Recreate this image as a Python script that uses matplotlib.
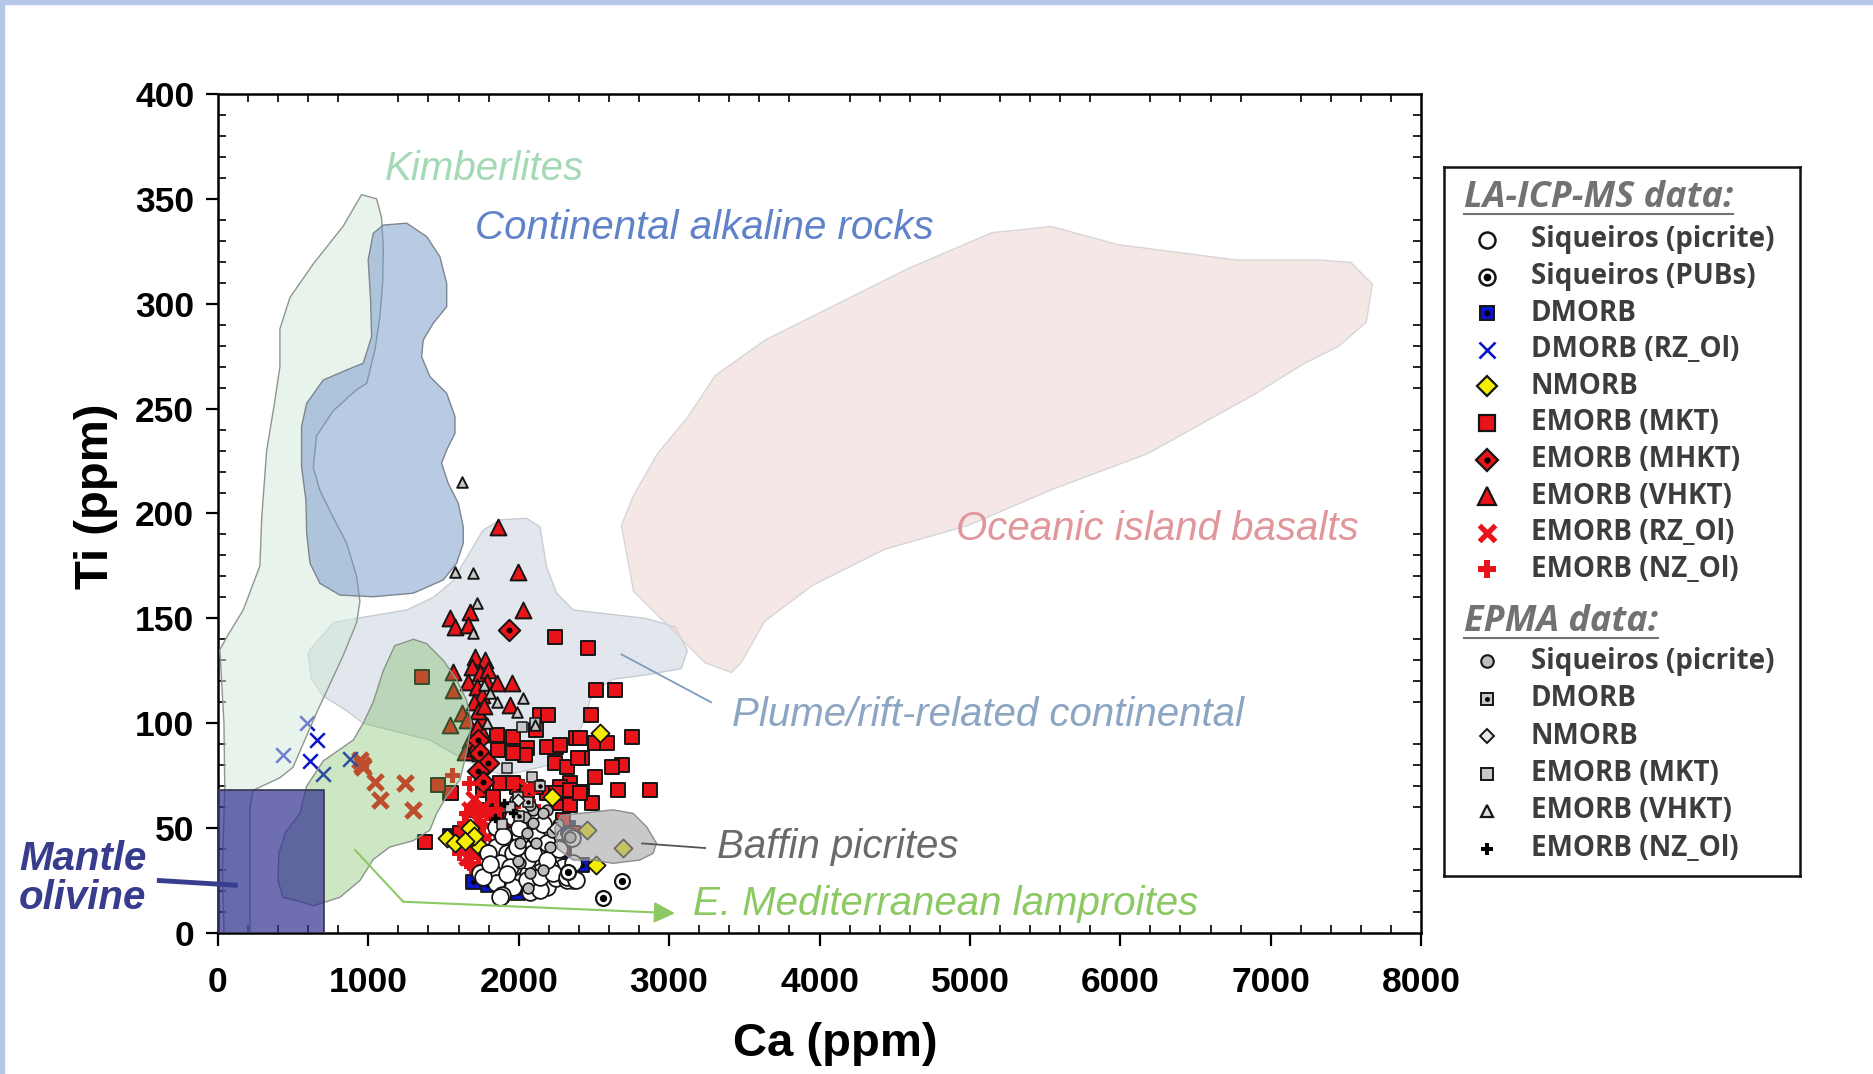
import matplotlib
matplotlib.use("Agg")
import matplotlib.pyplot as plt
from matplotlib.colors import to_rgba
from matplotlib.lines import Line2D
from matplotlib.patches import Rectangle
from matplotlib.ticker import MultipleLocator

plt.rcParams["font.family"] = ["Liberation Sans", "DejaVu Sans"]

# ---- field outlines (Ca ppm, Ti ppm) ----
kimb_ca = [955, 1055, 1088, 1100, 1095, 1077, 1044, 989, 922, 767, 656, 634, 678, 767, 855, 922, 944, 922,
           831, 656, 499, 412, 233, 213, 213, 40, 30, 45, 40, 13, 58, 168, 279, 291, 324, 379, 412, 412, 479, 634, 833]
kimb_ti = [352, 350, 341, 326, 310, 294, 278, 262, 259, 249, 237, 222, 211, 198, 186, 170, 158, 148,
           132, 105, 79, 74, 68, 60, 0, 0, 30, 70, 100, 135, 141, 154, 175, 198, 230, 254, 270, 288, 303, 319, 337]

alk_ca = [1099, 1255, 1388, 1476, 1521, 1521, 1432, 1365, 1354, 1410, 1521, 1576, 1576, 1521, 1487, 1531, 1598,
          1631, 1631, 1587, 1498, 1299, 1033, 811, 678, 612, 590, 585, 556, 556, 590, 700, 855, 966, 1022, 1015, 999, 1033]
alk_ti = [337.5, 338.4, 332, 322.4, 309.7, 298.6, 290.7, 282.7, 274.8, 265.2, 257.3, 246.2, 238.2, 230.3, 224, 214.4, 204.9,
          193.7, 185.8, 176.3, 168.3, 162, 160.3, 161.1, 166.7, 176.3, 190.6, 206.4, 222.3, 241.4, 252.5, 263.6, 268.4, 271.6,
          284.3, 301.8, 320.9, 333.6]

oib_ca = [3359, 3637, 4114, 4591, 5148, 5545, 5982, 6777, 7334, 7533, 7676, 7636, 7453, 7215, 6897, 6181, 5545,
          4988, 4432, 3955, 3637, 3478, 3415, 3240, 3002, 2763, 2683, 2763, 2922, 3121, 3304]
oib_ti = [268.4, 282.6, 299.7, 316.8, 333.9, 336.8, 328.2, 320.8, 320.8, 319.7, 309.4, 291.2, 279.8, 271.2, 257, 228.5,
          211.4, 194.3, 182.9, 165.8, 148.7, 128.8, 124.2, 128.8, 145.9, 163, 194.3, 208.5, 228.5, 245.6, 265.5]

plume_ca = [600, 612, 767, 989, 1255, 1432, 1565, 1654, 1763, 1875, 2052, 2141, 2185, 2252, 2362, 2540, 2843, 3041,
            3121, 3081, 2843, 2628, 2517, 2473, 2450, 2400, 2200, 1900, 1653, 1409, 966, 855, 700, 622]
plume_ti = [133, 135, 148, 150.8, 154, 160, 168, 179, 192, 197, 197.7, 193.7, 174.6, 162, 154, 152.5, 150, 146,
            134.5, 126, 123, 121, 116, 111, 105, 95, 80, 75, 82, 92, 100, 106, 113, 121]

lamp_ca = [1176, 1300, 1387, 1498, 1586, 1653, 1686, 1653, 1609, 1520, 1454, 1409, 1298, 1143, 1032, 944, 811, 634,
           545, 432, 399, 405, 450, 545, 590, 700, 900, 966, 1032, 1099]
lamp_ti = [137, 140, 138, 130, 121, 111, 100, 86, 73, 65, 57, 49, 44, 41, 35, 25, 17, 13,
           15, 17, 25, 38, 48, 57, 70, 82, 92, 100, 110, 125]

baffin_ca = [2406, 2628, 2761, 2850, 2916, 2894, 2806, 2628, 2495, 2362, 2260, 2240, 2280]
baffin_ti = [57, 58.7, 57, 50.7, 42.8, 38, 34.8, 33.2, 34.8, 34.8, 40, 50, 56]

olivine_ca_max = 705
olivine_ti_max = 68

# ---- LA-ICP-MS data ----
sq_pic_ca = [1886, 1963, 1974, 1852, 1919, 2030, 2118, 2185, 2229, 2296, 2362, 2141, 2052, 1963, 1875, 1830, 1742,
             1852, 1963, 2074, 2185, 2251, 2318, 1886, 2141, 2052, 2207, 2096, 1963, 1797, 2008, 1852, 2340, 1875,
             1764, 1941, 2052, 2141, 2229, 2318, 2384, 2362, 1897, 1986, 2096, 2185, 2351, 1808, 1920, 2000, 2160, 2270]
sq_pic_ti = [46.7, 55.5, 47.5, 41.2, 38, 41.2, 46, 42.8, 36.4, 31.6, 25.3, 33.2, 30.1, 31.6, 33.2, 28.5, 28.5,
             23.7, 22.1, 19.7, 22.1, 26.1, 25.3, 18.1, 20.5, 25.3, 31.6, 36.4, 38, 38, 46, 50.7, 46, 17.3,
             26.8, 31.6, 34.8, 26.8, 28.4, 26.8, 25.3, 33.2, 46, 41.2, 38, 34.8, 45.1, 33, 28, 50, 52, 40]

pubs_ca = [2684, 2562, 2330]
pubs_ti = [25, 16.5, 29]

dmorb_ca = [1697, 1797, 2418, 1542, 1997, 2330, 2300, 1545, 1690]
dmorb_ti = [24.5, 22.9, 32.4, 66.6, 19, 50, 37, 46, 41]

dmorb_rz_ca = [589, 434, 656, 611, 696, 877]
dmorb_rz_ti = [100, 85, 92, 82, 76, 83]

nmorb_ca = [1520, 1576, 1675, 1742, 1786, 2517, 2539, 2218, 2451, 2694, 1700, 1640]
nmorb_ti = [45.2, 42.8, 49.9, 41.2, 38, 32.4, 95.2, 65, 49.1, 40.4, 46, 44]

mkt_ca = [2240, 2462, 2517, 2639, 2478, 2141, 2196, 2750, 2506, 2584, 2384, 2251, 2185, 1853, 1963, 2052, 2118,
          2684, 2617, 2506, 2418, 2240, 2318, 2041, 1963, 1864, 2661, 2872, 2340, 2418, 2484, 2274, 2340, 2185,
          2274, 1764, 1830, 1875, 1986, 1553, 1376, 2406, 2273, 2395, 2052, 2118, 1720, 1852, 1941, 1609, 1963,
          2251, 2340, 2406, 2296, 2362, 2296, 1354, 1465]
mkt_ti = [141.3, 135.7, 115.8, 115.8, 104, 103.9, 103.9, 93.6, 90.4, 90.4, 92.8, 88.8, 88.8, 94.4, 93.6, 88, 96.7,
          80.1, 79.3, 74.5, 83.3, 80.9, 79.3, 84.8, 85.6, 87.2, 68.2, 68.2, 71.3, 67.4, 61.8, 61.8, 61, 66.6,
          69.7, 68.2, 65, 71.3, 69.7, 66.6, 43.5, 92.8, 89.6, 83.3, 66.6, 69.8, 58.7, 57, 53.9, 47.5, 71.4,
          66.6, 68.2, 66.6, 53.9, 47.5, 41.2, 122.2, 70.5]

mhkt_ca = [1935, 1731, 1742, 1797, 1731, 1760]
mhkt_ti = [144.4, 92, 85.7, 80.9, 77, 72]

vhkt_ca = [1864, 1997, 2030, 1542, 1675, 1576, 1664, 1709, 1775, 1565, 1686, 1742, 1797, 1664, 1786, 1720, 1853,
           1952, 1753, 1941, 1753, 1565, 1620, 1542, 1653, 1675, 1642, 1700, 1730, 1770, 1720, 1760, 1700, 1740]
vhkt_ti = [193.7, 172.2, 154, 150, 153.2, 146, 146.8, 131.7, 130, 124.6, 127, 123.8, 125.4, 119.8, 119.8, 117.4, 119,
           119, 113.4, 108.7, 102.3, 115.8, 104.7, 99.1, 101.5, 92, 86.4, 110, 106, 108, 98, 95, 88, 86]

emorb_rz_ca = [944, 966, 955, 1044, 1077, 1243, 1298, 1675, 1720, 1653, 1742, 1786, 1675, 1653, 2052, 2008, 1700, 1760]
emorb_rz_ti = [82.5, 79.3, 80.1, 72.2, 63.4, 71.4, 58.7, 58.7, 53.9, 47.5, 49.1, 45.9, 41.2, 36.4, 69.8, 65, 64, 60]

emorb_nz_ca = [1560, 1675, 1675, 1686, 1609, 1720, 1764, 1653, 1786, 1852, 1963, 2096, 1700, 1640, 1730]
emorb_nz_ti = [75, 71.4, 33.2, 31.6, 38, 44.4, 50.7, 57, 57, 58.7, 60.3, 60.3, 40, 52, 36]

# ---- EPMA data ----
ep_sq_ca = [2041, 2096, 2185, 2052, 2118, 2207, 2008, 2074, 1975, 2074, 2163, 2218, 2096, 2008, 1997, 2163, 2340, 2063, 2260]
ep_sq_ti = [55.5, 58.7, 58.7, 47.5, 42.8, 41.2, 33.2, 28.5, 63.4, 61, 57, 48.3, 52.2, 42.8, 34.1, 30, 45.9, 21.3, 52]

ep_dm_ca = [2063, 2141, 2000]
ep_dm_ti = [62.6, 70, 56]

ep_nm_ca = [1997, 2240]
ep_nm_ti = [63.4, 50]

ep_mkt_ca = [2019, 2107, 1919, 2085, 1997, 1941, 1890]
ep_mkt_ti = [98.4, 100, 78.5, 74.5, 65, 60.3, 52]

ep_vhkt_ca = [1620, 1576, 1697, 1720, 1697, 1808, 1853, 2030, 1986, 2107, 1770, 1790]
ep_vhkt_ti = [215, 172.2, 171.4, 157.1, 142.8, 114.2, 110.3, 111.9, 105.5, 99.1, 118, 100]

ep_nz_ca = [1900, 1960, 1840]
ep_nz_ti = [62, 57, 55]

RED = "#e8141a"
BLUE = "#0a14c8"
YEL = "#f5ee00"
EDGE = "#151515"

fig = plt.figure(figsize=(18.74, 10.74), dpi=100)
ax = fig.add_axes([0.1163, 0.1313, 0.642, 0.7812])
ax.set_xlim(0, 8000)
ax.set_ylim(0, 400)

# light blue frame strips on the left and top edge
fig.patches.append(Rectangle((0, 0), 4 / 1874, 1, transform=fig.transFigure, color="#b4c7e7", zorder=0))
fig.patches.append(Rectangle((0, 1 - 4 / 1074), 1, 4 / 1074, transform=fig.transFigure, color="#b4c7e7", zorder=0))

# fields drawn underneath the data
ax.fill(plume_ca, plume_ti, facecolor=to_rgba("#c7cfdd", 0.5), edgecolor="#c9ccd2", lw=1, zorder=1)
ax.fill(oib_ca, oib_ti, facecolor=to_rgba("#efd5d5", 0.55), edgecolor="#d6d6d6", lw=1, zorder=1)

# data
ms = 100
ax.scatter(dmorb_ca, dmorb_ti, s=ms, marker="s", c=BLUE, edgecolors=EDGE, linewidths=1.3, zorder=3)
ax.scatter(dmorb_ca, dmorb_ti, s=6, marker="o", c="k", zorder=3)
ax.scatter(mkt_ca, mkt_ti, s=ms, marker="s", c=RED, edgecolors=EDGE, linewidths=1.4, zorder=3)
ax.scatter(vhkt_ca, vhkt_ti, s=130, marker="^", c=RED, edgecolors=EDGE, linewidths=1.4, zorder=3)
ax.scatter(mhkt_ca, mhkt_ti, s=120, marker="D", c=RED, edgecolors=EDGE, linewidths=1.4, zorder=3)
ax.scatter(mhkt_ca, mhkt_ti, s=10, marker="o", c="k", zorder=3)
ax.scatter(emorb_rz_ca, emorb_rz_ti, s=120, marker="x", c=RED, linewidths=3.5, zorder=3)
ax.scatter(emorb_nz_ca, emorb_nz_ti, s=120, marker="P", c=RED, edgecolors="none", zorder=3)
ax.scatter(nmorb_ca, nmorb_ti, s=85, marker="D", c=YEL, edgecolors=EDGE, linewidths=1.3, zorder=3)
ax.scatter(sq_pic_ca, sq_pic_ti, s=145, marker="o", c="white", edgecolors=EDGE, linewidths=1.3, zorder=3)
ax.scatter(pubs_ca, pubs_ti, s=115, marker="o", c="white", edgecolors=EDGE, linewidths=1.6, zorder=3)
ax.scatter(pubs_ca, pubs_ti, s=18, marker="o", c="k", zorder=3)
ax.scatter(ep_sq_ca, ep_sq_ti, s=60, marker="o", c="#bdbdbd", edgecolors=EDGE, linewidths=1.2, zorder=3)
ax.scatter(ep_mkt_ca, ep_mkt_ti, s=42, marker="s", c="#c8c8c8", edgecolors=EDGE, linewidths=1.1, zorder=3)
ax.scatter(ep_dm_ca, ep_dm_ti, s=42, marker="s", c="#c8c8c8", edgecolors=EDGE, linewidths=1.1, zorder=3)
ax.scatter(ep_dm_ca, ep_dm_ti, s=5, marker="o", c="k", zorder=3)
ax.scatter(ep_nm_ca, ep_nm_ti, s=40, marker="D", c="#e8e8e8", edgecolors=EDGE, linewidths=1.1, zorder=3)
ax.scatter(ep_vhkt_ca, ep_vhkt_ti, s=58, marker="^", c="#c8c8c8", edgecolors=EDGE, linewidths=1.4, zorder=3)
ax.scatter(ep_nz_ca, ep_nz_ti, s=40, marker="P", c="k", zorder=3)
ax.scatter(dmorb_rz_ca, dmorb_rz_ti, s=110, marker="x", c=BLUE, linewidths=1.8, zorder=3)

# fields drawn over the data (semi-transparent)
ax.fill(kimb_ca, kimb_ti, facecolor=to_rgba("#d2e9da", 0.5), edgecolor="#8f9690", lw=1, zorder=5)
ax.fill(alk_ca, alk_ti, facecolor=to_rgba("#7597c9", 0.5), edgecolor="#7d8590", lw=1, zorder=5)
ax.fill(lamp_ca, lamp_ti, facecolor=to_rgba("#70b854", 0.35), edgecolor="#8b948a", lw=1, zorder=5)
ax.fill(baffin_ca, baffin_ti, facecolor=to_rgba("#a6a6a6", 0.6), edgecolor="#8d8d8d", lw=1, zorder=5)
ax.add_patch(Rectangle((0, 0), olivine_ca_max, olivine_ti_max, facecolor=to_rgba("#303091", 0.7),
                       edgecolor="#35354f", lw=1.2, zorder=6))

# labels for the fields
lab = dict(fontsize=29, style="italic", va="center", ha="left", zorder=8)
ax.text(1111, 364, "Kimberlites", color="#a3d9b5", **lab)
ax.text(1706, 336, "Continental alkaline rocks", color="#5f82c8", **lab)
ax.text(4910, 192.6, "Oceanic island basalts", color="#e0969b", **lab)
ax.text(3415, 104, "Plume/rift-related continental", color="#8ca5c3", **lab)
ax.text(3321, 41, "Baffin picrites", color="#6a6a6a", **lab)
ax.text(3160, 13.7, "E. Mediterranean lamproites", color="#8cc864", **lab)

ax.plot([2684, 3279], [132.8, 110], color="#7f9cc0", lw=1.3, zorder=8)
ax.plot([2820, 3240], [42.7, 40.5], color="#555555", lw=1.3, zorder=8)
ax.plot([911, 1232], [39.6, 14.9], color="#8cc864", lw=1.5, zorder=8)
ax.annotate("", xy=(3039, 9.4), xytext=(1232, 14.9),
            arrowprops=dict(arrowstyle="-|>", color="#8cc864", lw=1.5, mutation_scale=32, shrinkA=0, shrinkB=0),
            zorder=8)

ax.text(-900, 26, "Mantle\nolivine", fontsize=29, fontweight="bold", style="italic", color="#373c8c",
        ha="center", va="center", linespacing=1.05, clip_on=False, zorder=8)
ax.plot([-390, 115], [25, 22.8], color="#373c8c", lw=3.5, clip_on=False, zorder=8)

# axes styling
ax.xaxis.set_major_locator(MultipleLocator(1000))
ax.xaxis.set_minor_locator(MultipleLocator(200))
ax.yaxis.set_major_locator(MultipleLocator(50))
ax.yaxis.set_minor_locator(MultipleLocator(10))
ax.tick_params(which="major", direction="out", length=9, width=1.6, top=False, right=False,
               labelsize=25.5)
ax.tick_params(axis="x", which="major", pad=15)
ax.tick_params(axis="y", which="major", pad=8)
ax.tick_params(which="minor", direction="in", length=6, width=1.2, top=True, right=True)
for lbl in ax.get_xticklabels() + ax.get_yticklabels():
    lbl.set_fontweight("bold")
for sp in ax.spines.values():
    sp.set_linewidth(1.8)

ax.set_xlabel("Ca (ppm)", fontsize=34, fontweight="bold", va="top")
ax.xaxis.set_label_coords(0.513, -0.106)
ax.set_ylabel("Ti (ppm)", fontsize=34, fontweight="bold", va="center")
ax.yaxis.set_label_coords(-0.101, 0.521)

# ---- legend panel ----
lax = fig.add_axes([1444 / 1874, (1074 - 876) / 1074, 356 / 1874, 709 / 1074])
lax.set_xlim(0, 356)
lax.set_ylim(709, 0)
lax.set_xticks([])
lax.set_yticks([])
for sp in lax.spines.values():
    sp.set_linewidth(1.8)
    sp.set_color("#111111")

la_labels = ["Siqueiros (picrite)", "Siqueiros (PUBs)", "DMORB", "DMORB (RZ_Ol)", "NMORB",
             "EMORB (MKT)", "EMORB (MHKT)", "EMORB (VHKT)", "EMORB (RZ_Ol)", "EMORB (NZ_Ol)"]
ep_labels = ["Siqueiros (picrite)", "DMORB", "NMORB", "EMORB (MKT)", "EMORB (VHKT)", "EMORB (NZ_Ol)"]

la_style = [
    dict(marker="o", mfc="white", mec=EDGE, ms=11.5, mew=1.8, dot=0),
    dict(marker="o", mfc="white", mec=EDGE, ms=11.5, mew=1.8, dot=4.5),
    dict(marker="s", mfc=BLUE, mec=EDGE, ms=10, mew=1.4, dot=3),
    dict(marker="x", mfc=BLUE, mec=BLUE, ms=11, mew=1.9, dot=0),
    dict(marker="D", mfc=YEL, mec=EDGE, ms=10, mew=1.6, dot=0),
    dict(marker="s", mfc=RED, mec=EDGE, ms=11, mew=1.6, dot=0),
    dict(marker="D", mfc=RED, mec=EDGE, ms=11, mew=1.6, dot=3.5),
    dict(marker="^", mfc=RED, mec=EDGE, ms=12.5, mew=1.6, dot=0),
    dict(marker="x", mfc=RED, mec=RED, ms=11, mew=3.8, dot=0),
    dict(marker="P", mfc=RED, mec="none", ms=12.5, mew=0, dot=0),
]
ep_style = [
    dict(marker="o", mfc="#bdbdbd", mec=EDGE, ms=9, mew=1.5, dot=0),
    dict(marker="s", mfc="#c8c8c8", mec=EDGE, ms=8, mew=1.4, dot=2.5),
    dict(marker="D", mfc="#e8e8e8", mec=EDGE, ms=7.5, mew=1.4, dot=0),
    dict(marker="s", mfc="#c8c8c8", mec=EDGE, ms=8, mew=1.4, dot=0),
    dict(marker="^", mfc="#e0e0e0", mec=EDGE, ms=9, mew=1.6, dot=0),
    dict(marker="P", mfc="k", mec="none", ms=9, mew=0, dot=0),
]

ent_font = dict(family=["Open Sans", "DejaVu Sans"], fontsize=20, fontweight="bold", color="#3d3d3d", va="center")
hdr_font = dict(family=["Open Sans", "DejaVu Sans"], fontsize=26, fontweight="bold", style="italic",
                color="#727272", va="center")

headers = []
headers.append(lax.text(20, 31, "LA-ICP-MS data:", **hdr_font))
for i, (name, st) in enumerate(zip(la_labels, la_style)):
    y = 73 + i * 36.6
    dot = st.pop("dot")
    lax.plot([43], [y], linestyle="none", **st)
    if dot:
        lax.plot([43], [y], "ko", ms=dot)
    lax.text(87, y, name, **ent_font)

headers.append(lax.text(20, 455, "EPMA data:", **hdr_font))
for i, (name, st) in enumerate(zip(ep_labels, ep_style)):
    y = 494 + i * 37.5
    dot = st.pop("dot")
    lax.plot([43], [y], linestyle="none", **st)
    if dot:
        lax.plot([43], [y], "ko", ms=dot)
    lax.text(87, y, name, **ent_font)

# underline the two headers
fig.canvas.draw()
inv = fig.transFigure.inverted()
for h in headers:
    bb = h.get_window_extent()
    (x0, y0), (x1, _) = inv.transform([(bb.x0, bb.y0 + 2), (bb.x1, bb.y0 + 2)])
    fig.add_artist(Line2D([x0, x1], [y0, y0], color="#727272", lw=1.5, transform=fig.transFigure))

fig.savefig("out.png", dpi=100)
